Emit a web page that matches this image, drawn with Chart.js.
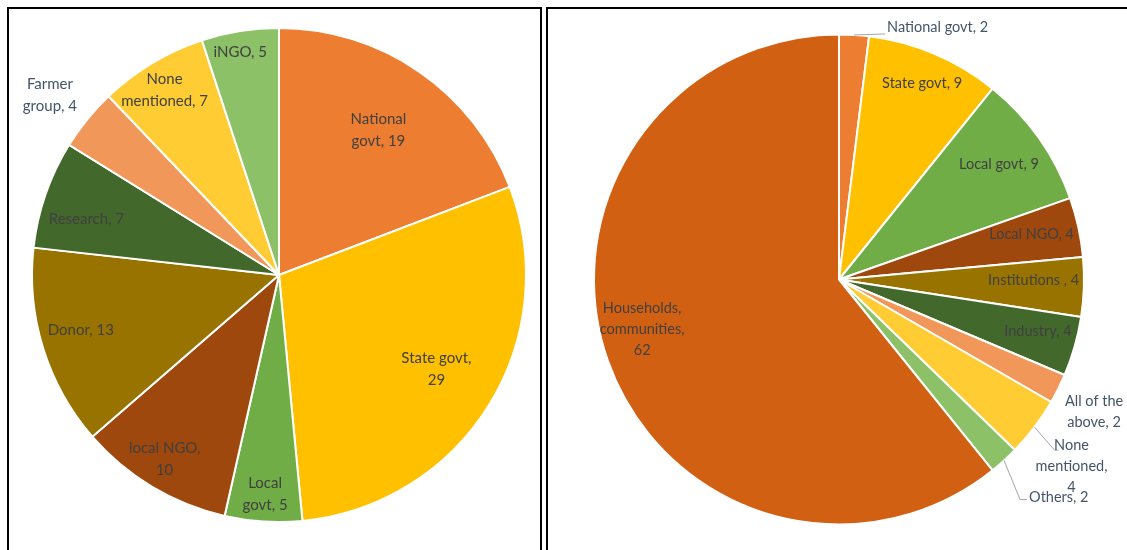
<!DOCTYPE html>
<html>
<head>
<meta charset="utf-8">
<title>Partners pie charts</title>
<script src="https://cdn.jsdelivr.net/npm/chart.js@4.4.1/dist/chart.umd.min.js"></script>
<style>
  body { margin: 0; background: #fff; width: 1127px; height: 550px; overflow: hidden; position: relative; }
  .panel { position: absolute; border: 2px solid #000; box-sizing: border-box; }
  #panelLeft { left: 7px; top: 7px; width: 535px; height: 570px; }
  #panelRight { left: 546px; top: 7px; width: 600px; height: 570px; }
  canvas { position: absolute; }
  #pieLeft { left: 10px; top: 10px; }
  #pieRight { left: 549px; top: 10px; }
</style>
</head>
<body>
<div class="panel" id="panelLeft"></div>
<div class="panel" id="panelRight"></div>
<canvas id="pieLeft" width="529" height="540"></canvas>
<canvas id="pieRight" width="578" height="540"></canvas>

<script>
// ---- left pie ----
const leftCategories = ['National govt', 'State govt', 'Local govt', 'local NGO', 'Donor',
  'Research', 'Farmer group', 'None mentioned', 'iNGO'];
const leftValues = [19, 29, 5, 10, 13, 7, 4, 7, 5];
// label text, {v} gets the slice value
const leftLabelText = ['National\ngovt, {v}', 'State govt,\n{v}', 'Local\ngovt, {v}', 'local NGO,\n{v}',
  'Donor, {v}', 'Research, {v}', 'Farmer\ngroup, {v}', 'None\nmentioned, {v}', 'iNGO, {v}'];
const leftColors = ['#ED7D31', '#FFC000', '#70AD47', '#9E480E', '#997300',
  '#43682B', '#F1975A', '#FFCD33', '#8CC168'];

// ---- right pie ----
const rightCategories = ['National govt', 'State govt', 'Local govt', 'Local NGO', 'Institutions',
  'Industry', 'All of the above', 'None mentioned', 'Others', 'Households, communities'];
const rightValues = [2, 9, 9, 4, 4, 4, 2, 4, 2, 62];
const rightLabelText = ['National govt, {v}', 'State govt, {v}', 'Local govt, {v}', 'Local NGO, {v}',
  'Institutions , {v}', 'Industry, {v}', 'All of the\nabove, {v}', 'None\nmentioned,\n{v}', 'Others, {v}',
  'Households,\ncommunities,\n{v}'];
const rightColors = ['#ED7D31', '#FFC000', '#70AD47', '#9E480E', '#997300',
  '#43682B', '#F1975A', '#FFCD33', '#8CC168', '#D26012'];

const INSIDE_TEXT = '#404040';
const OUTSIDE_TEXT = '#44546A';

// where each label sits: r = fraction of the radius along the slice middle, dx/dy nudge
const leftPlaces = [
  { r: 0.71 },
  { r: 0.75, dy: -4 },
  { r: 0.89 },
  { r: 0.87, dx: -4 },
  { r: 0.84, dy: -6 },
  { r: 0.825, dy: 11 },
  { r: 1.195, dy: 6, outside: true },
  { r: 0.87, dx: -4 },
  { r: 0.915, dx: -3 }
];
const rightPlaces = [
  { r: 1, dx: 33, dy: -8, align: 'left', outside: true, leader: [[-2, 7]] },
  { r: 0.87 },
  { r: 0.8, dy: -2 },
  { r: 0.805, dy: -3 },
  { r: 0.795, dy: -5 },
  { r: 0.844, dy: -5 },
  { r: 1.163, dy: 5, outside: true },
  { r: 1, dx: 37, dy: 39, outside: true, leader: [[-17, -16], [-13, -16]] },
  { r: 1, dx: 25, dy: 37, align: 'left', outside: true, leader: [[-9, 2], [-2, 2]] },
  { r: 0.852, dy: -20 }
];

// draws data labels next to / inside each slice
const sliceLabels = {
  id: 'sliceLabels',
  afterDatasetsDraw(chart, args, opts) {
    const ctx = chart.ctx;
    const meta = chart.getDatasetMeta(0);
    const values = chart.data.datasets[0].data;
    ctx.save();
    ctx.font = opts.size + 'px Lato';
    ctx.textBaseline = 'middle';
    meta.data.forEach((arc, i) => {
      const p = arc.getProps(['x', 'y', 'startAngle', 'endAngle', 'outerRadius'], true);
      const mid = (p.startAngle + p.endAngle) / 2;
      const place = opts.places[i];
      const ex = p.x + Math.cos(mid) * p.outerRadius;
      const ey = p.y + Math.sin(mid) * p.outerRadius;
      const ax = p.x + Math.cos(mid) * p.outerRadius * place.r + (place.dx || 0);
      const ay = p.y + Math.sin(mid) * p.outerRadius * place.r + (place.dy || 0);

      if (place.leader) {
        ctx.strokeStyle = '#A6A6A6';
        ctx.lineWidth = 1;
        ctx.beginPath();
        ctx.moveTo(ex, ey);
        place.leader.forEach(pt => ctx.lineTo(ax + pt[0], ay + pt[1]));
        ctx.stroke();
      }

      const lines = opts.text[i].replace('{v}', values[i]).split('\n');
      const top = ay - (lines.length - 1) * opts.lineHeight / 2;
      ctx.fillStyle = place.outside ? OUTSIDE_TEXT : INSIDE_TEXT;
      ctx.textAlign = place.align || 'center';
      lines.forEach((line, k) => ctx.fillText(line, ax, top + k * opts.lineHeight));
    });
    ctx.restore();
  }
};

function makePie(canvasId, labels, values, colors, radius, padding, labelOpts) {
  return new Chart(document.getElementById(canvasId), {
    type: 'pie',
    data: {
      labels: labels,
      datasets: [{
        data: values,
        backgroundColor: colors,
        borderColor: '#FFFFFF',
        borderWidth: 2
      }]
    },
    options: {
      responsive: false,
      animation: false,
      radius: radius,
      layout: { padding: padding },
      plugins: {
        legend: { display: false },
        tooltip: { enabled: false },
        sliceLabels: labelOpts
      }
    },
    plugins: [sliceLabels]
  });
}

makePie('pieLeft', leftCategories, leftValues, leftColors, 247,
  { left: 14, right: 5, top: 10, bottom: 20 },
  { size: 15, lineHeight: 22, places: leftPlaces, text: leftLabelText });

makePie('pieRight', rightCategories, rightValues, rightColors, 245,
  { left: 20, right: 18, top: 0, bottom: 1 },
  { size: 14.5, lineHeight: 21, places: rightPlaces, text: rightLabelText });
</script>
</body>
</html>
